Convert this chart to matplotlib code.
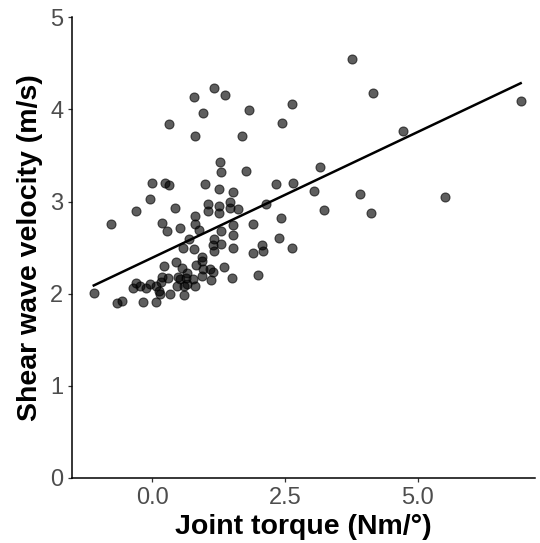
import matplotlib
matplotlib.use("Agg")
import matplotlib.pyplot as plt
import numpy as np

# Joint torque (Nm/°)
torque = [3.76, 4.16, 6.94, 4.73, 2.64, 2.44, 1.82, 3.16, 2.34, 2.66,
          3.05, 3.92, 5.51, 2.14, 3.23, 4.12, 1.89, 2.42, 2.39, 2.06,
          1.90, 2.08, 2.63, 2.00, 0.32, 0.78, 1.16, 1.38, 0.96, 0.81,
          1.70, 1.27, 1.29, 1.76, 0.00, 0.24, 0.32, 0.99, 1.25, 1.53,
          -0.04, -0.31, 0.43, 1.06, 1.25, 1.46, 1.06, 1.25, 1.46, 1.62,
          0.80, -0.78, 0.19, 0.28, 0.53, 0.80, 0.89, 1.29, 1.53, 1.53,
          0.69, 0.58, 0.78, 1.16, 1.14, 1.30, 1.17, 1.53, 0.44, 0.93,
          0.93, 0.82, 0.22, 0.56, 0.65, 1.09, 1.14, 1.36, 0.96, 0.94,
          1.11, 1.51, 0.18, 0.16, 0.29, 0.49, 0.53, 0.63, 0.66, 0.76,
          0.80, 0.60, 0.46, 0.60, 0.33, 0.13, 0.15, 0.08, -0.17, -0.31,
          -0.36, -0.22, -0.11, -0.05, 0.08, -0.66, -0.56, -1.10]

# Shear wave velocity (m/s)
velocity = [4.55, 4.18, 4.09, 3.77, 4.06, 3.85, 3.99, 3.38, 3.19, 3.20,
            3.11, 3.08, 3.05, 2.97, 2.91, 2.88, 2.76, 2.82, 2.60, 2.53,
            2.44, 2.46, 2.50, 2.20, 3.84, 4.14, 4.23, 4.16, 3.96, 3.71,
            3.71, 3.43, 3.32, 3.33, 3.20, 3.20, 3.18, 3.19, 3.14, 3.10,
            3.03, 2.90, 2.93, 2.97, 2.95, 3.00, 2.90, 2.88, 2.93, 2.92,
            2.84, 2.76, 2.77, 2.68, 2.71, 2.76, 2.69, 2.68, 2.75, 2.64,
            2.59, 2.50, 2.48, 2.59, 2.53, 2.54, 2.46, 2.50, 2.34, 2.40,
            2.36, 2.31, 2.30, 2.28, 2.23, 2.27, 2.24, 2.29, 2.27, 2.19,
            2.15, 2.17, 2.18, 2.13, 2.17, 2.18, 2.16, 2.17, 2.11, 2.16,
            2.08, 2.08, 2.08, 1.99, 2.00, 2.03, 2.00, 1.91, 1.91, 2.12,
            2.06, 2.08, 2.06, 2.11, 2.08, 1.90, 1.92, 2.01]

# Linear fit
fit_intercept = 2.39
fit_slope = 0.273

x_ticks = [0.0, 2.5, 5.0]
x_tick_labels = ["0.0", "2.5", "5.0"]
y_ticks = [0, 1, 2, 3, 4, 5]
y_tick_labels = ["0", "1", "2", "3", "4", "5"]

plt.rcParams['font.family'] = ['Liberation Sans', 'DejaVu Sans']

W, H = 540, 543
fig = plt.figure(figsize=(W / 100, H / 100), dpi=100)
left_px, right_px, top_px, bottom_px = 72, 535, 17.3, 478
ax = fig.add_axes([left_px / W, (H - bottom_px) / H,
                   (right_px - left_px) / W, (bottom_px - top_px) / H])

ax.scatter(torque, velocity, s=42, facecolor='black', edgecolor='black',
           linewidths=0.8, alpha=0.63, zorder=2)

xs = np.array([min(torque), max(torque)])
ax.plot(xs, fit_intercept + fit_slope * xs, color='black', lw=1.8, zorder=3)

ax.set_xlim(-1.51, 7.21)
ax.set_ylim(0, 5)
ax.set_xticks(x_ticks)
ax.set_xticklabels(x_tick_labels)
ax.set_yticks(y_ticks)
ax.set_yticklabels(y_tick_labels)

for side in ['top', 'right']:
    ax.spines[side].set_visible(False)
for side in ['left', 'bottom']:
    ax.spines[side].set_linewidth(1.1)
    ax.spines[side].set_color('black')

ax.tick_params(axis='both', length=3.2, width=0.9, color='#333333',
               labelcolor='#4D4D4D', labelsize=17, pad=3)

ax.set_xlabel("Joint torque (Nm/°)", fontsize=20.5, fontweight='bold', labelpad=4)
ax.set_ylabel("Shear wave velocity (m/s)", fontsize=20.5, fontweight='bold', labelpad=5)

fig.savefig("out.png", dpi=100)
